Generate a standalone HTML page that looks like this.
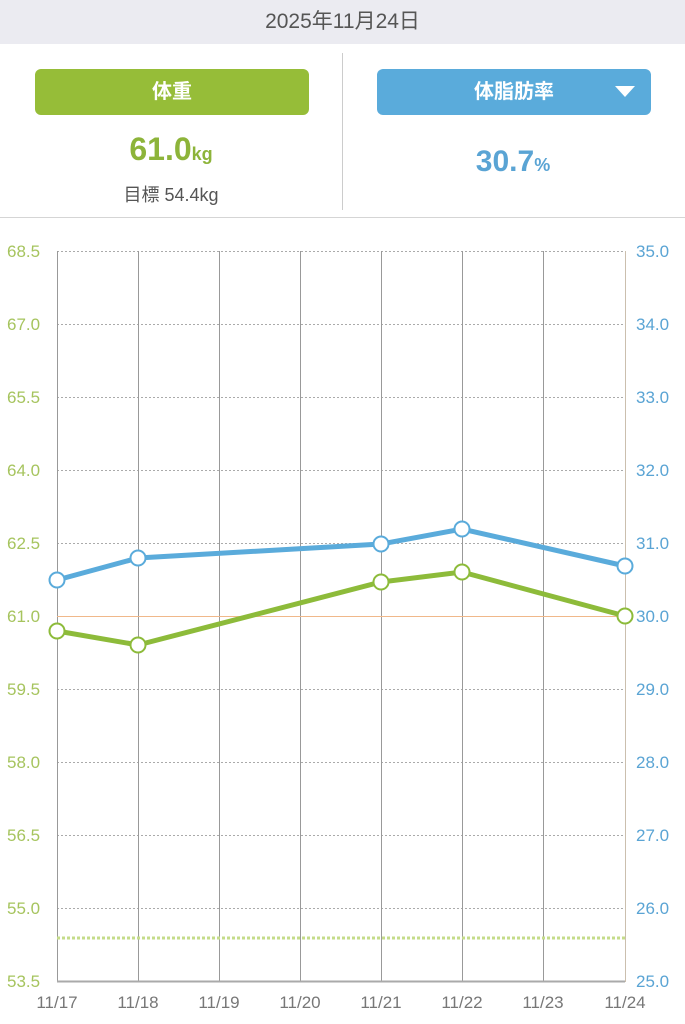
<!DOCTYPE html>
<html><head><meta charset="utf-8"><style>
body{margin:0;width:685px;height:1024px;background:#fff;font-family:"Liberation Sans","Noto Sans CJK JP",sans-serif;position:relative;overflow:hidden}
.hdr{position:absolute;left:0;top:0;width:685px;height:44px;background:#ebebf1;text-align:center;line-height:44px;font-size:21px;color:#555}
.btn{position:absolute;top:69px;height:46px;border-radius:6px;color:#fff;font-size:20px;font-weight:bold;text-align:center;line-height:46px}
</style></head><body>
<div class="hdr">2025年11月24日</div>
<div class="btn" style="left:35px;width:274px;background:#96bd38">体重</div>
<div class="btn" style="left:377px;width:274px;background:#5aabdb">体脂肪率<svg style="position:absolute;right:16px;top:17px" width="20" height="12"><polygon points="0,0 20,0 10,11" fill="#fff"/></svg></div>
<div style="position:absolute;left:342px;top:53px;width:1px;height:157px;background:#ccc"></div>
<div style="position:absolute;left:0;top:217px;width:685px;height:1px;background:#d5d5d5"></div>
<div style="position:absolute;left:0;width:342px;top:131px;text-align:center;color:#8db43a;font-weight:bold;font-size:32px">61.0<span style="font-size:18px">kg</span></div>
<div style="position:absolute;left:0;width:342px;top:181px;text-align:center;color:#555;font-size:18px">目標 54.4kg</div>
<div style="position:absolute;left:342px;width:342px;top:145px;text-align:center;color:#5aa4d4;font-weight:bold;font-size:30px">30.7<span style="font-size:18px">%</span></div>
<svg style="position:absolute;left:0;top:0" width="685" height="1024" font-family="Liberation Sans, sans-serif" font-size="17">
<g stroke="#aaa" stroke-width="1" stroke-dasharray="2,2">
<line x1="57" x2="625" y1="251.5" y2="251.5"/><line x1="57" x2="625" y1="324.5" y2="324.5"/><line x1="57" x2="625" y1="397.5" y2="397.5"/><line x1="57" x2="625" y1="470.5" y2="470.5"/><line x1="57" x2="625" y1="543.5" y2="543.5"/><line x1="57" x2="625" y1="689.5" y2="689.5"/><line x1="57" x2="625" y1="762.5" y2="762.5"/><line x1="57" x2="625" y1="835.5" y2="835.5"/><line x1="57" x2="625" y1="908.5" y2="908.5"/>
</g>
<g stroke="#999" stroke-width="1">
<line x1="57.5" x2="57.5" y1="251" y2="982"/><line x1="138.5" x2="138.5" y1="251" y2="982"/><line x1="219.5" x2="219.5" y1="251" y2="982"/><line x1="300.5" x2="300.5" y1="251" y2="982"/><line x1="381.5" x2="381.5" y1="251" y2="982"/><line x1="462.5" x2="462.5" y1="251" y2="982"/><line x1="543.5" x2="543.5" y1="251" y2="982"/>
</g>
<line x1="625.5" x2="625.5" y1="251" y2="982" stroke="#cbbfae"/>
<line x1="57" x2="625" y1="981.5" y2="981.5" stroke="#aaa" stroke-width="2"/>
<line x1="57" x2="625" y1="616.5" y2="616.5" stroke="#f0b88a" stroke-width="1"/>
<line x1="57" x2="625" y1="938" y2="938" stroke="#c5dc8a" stroke-width="3" stroke-dasharray="3,2"/>
<polyline points="57,580 138,558 381,544 462,529 625,566" fill="none" stroke="#5aabdb" stroke-width="5"/>
<polyline points="57,631 138,645 381,582 462,572 625,616" fill="none" stroke="#8dbb3a" stroke-width="5"/>
<g fill="#fff" stroke="#5aabdb" stroke-width="2"><circle cx="57" cy="580" r="7.5"/><circle cx="138" cy="558" r="7.5"/><circle cx="381" cy="544" r="7.5"/><circle cx="462" cy="529" r="7.5"/><circle cx="625" cy="566" r="7.5"/></g>
<g fill="#fff" stroke="#8dbb3a" stroke-width="2"><circle cx="57" cy="631" r="7.5"/><circle cx="138" cy="645" r="7.5"/><circle cx="381" cy="582" r="7.5"/><circle cx="462" cy="572" r="7.5"/><circle cx="625" cy="616" r="7.5"/></g>
<g fill="#a6c45e" text-anchor="start">
<text x="7" y="257">68.5</text><text x="7" y="330">67.0</text><text x="7" y="403">65.5</text><text x="7" y="476">64.0</text><text x="7" y="549">62.5</text><text x="7" y="622">61.0</text><text x="7" y="695">59.5</text><text x="7" y="768">58.0</text><text x="7" y="841">56.5</text><text x="7" y="914">55.0</text><text x="7" y="987">53.5</text>
</g>
<g fill="#5aa4d4" text-anchor="start">
<text x="636" y="257">35.0</text><text x="636" y="330">34.0</text><text x="636" y="403">33.0</text><text x="636" y="476">32.0</text><text x="636" y="549">31.0</text><text x="636" y="622">30.0</text><text x="636" y="695">29.0</text><text x="636" y="768">28.0</text><text x="636" y="841">27.0</text><text x="636" y="914">26.0</text><text x="636" y="987">25.0</text>
</g>
<g fill="#777" text-anchor="middle">
<text x="57" y="1008">11/17</text><text x="138" y="1008">11/18</text><text x="219" y="1008">11/19</text><text x="300" y="1008">11/20</text><text x="381" y="1008">11/21</text><text x="462" y="1008">11/22</text><text x="543" y="1008">11/23</text><text x="625" y="1008">11/24</text>
</g>
</svg>
</body></html>
